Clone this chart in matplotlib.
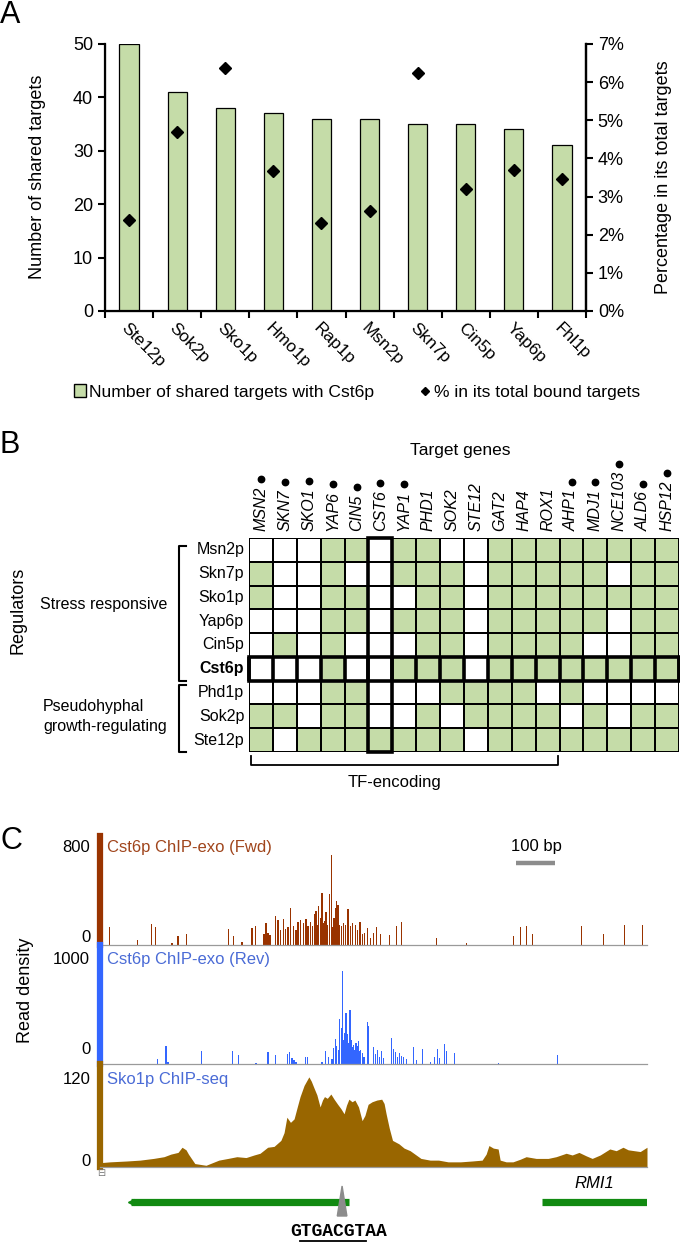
import numpy as np
import matplotlib
matplotlib.use('Agg')
import matplotlib.pyplot as plt
import matplotlib.ticker as ticker
from matplotlib.patches import Patch, Rectangle, Polygon
from matplotlib.lines import Line2D
from matplotlib.colors import ListedColormap

plt.rcParams['font.family'] = ['Liberation Sans', 'DejaVu Sans']

# ---------------- data ----------------
# panel A
regs_a = ['Ste12p', 'Sok2p', 'Sko1p', 'Hmo1p', 'Rap1p', 'Msn2p', 'Skn7p', 'Cin5p', 'Yap6p', 'Fhl1p']
shared = [50, 41, 38, 37, 36, 36, 35, 35, 34, 31]
pct = [2.38, 4.70, 6.38, 3.68, 2.32, 2.63, 6.23, 3.21, 3.70, 3.46]

# panel B
genes = ['MSN2', 'SKN7', 'SKO1', 'YAP6', 'CIN5', 'CST6', 'YAP1', 'PHD1', 'SOK2',
         'STE12', 'GAT2', 'HAP4', 'ROX1', 'AHP1', 'MDJ1', 'NCE103', 'ALD6', 'HSP12']
gene_dot = [1, 1, 1, 1, 1, 1, 1, 0, 0, 0, 0, 0, 0, 1, 1, 1, 1, 1]
regs_b = ['Msn2p', 'Skn7p', 'Sko1p', 'Yap6p', 'Cin5p', 'Cst6p', 'Phd1p', 'Sok2p', 'Ste12p']
binding = [
    [0, 0, 0, 1, 1, 0, 1, 1, 0, 0, 1, 1, 1, 1, 1, 1, 1, 1],
    [1, 0, 0, 1, 0, 0, 1, 1, 1, 0, 1, 1, 1, 1, 1, 0, 1, 1],
    [1, 0, 0, 1, 1, 0, 0, 1, 1, 0, 1, 1, 1, 1, 1, 1, 1, 1],
    [0, 0, 0, 1, 1, 0, 1, 1, 1, 0, 1, 1, 1, 1, 1, 0, 1, 1],
    [0, 1, 0, 1, 0, 0, 0, 1, 1, 0, 1, 1, 1, 1, 0, 0, 1, 1],
    [0, 0, 0, 1, 0, 0, 1, 1, 1, 0, 1, 1, 1, 1, 1, 1, 1, 1],
    [0, 0, 0, 1, 1, 0, 0, 0, 1, 1, 1, 1, 0, 1, 0, 0, 0, 0],
    [1, 1, 0, 1, 1, 0, 0, 1, 0, 1, 1, 1, 1, 0, 1, 0, 1, 1],
    [1, 0, 1, 1, 1, 1, 1, 1, 1, 0, 1, 1, 1, 1, 1, 1, 1, 1],
]

# panel C (positions in bp across the browser window)
fwd_pos = [24, 93, 128, 138, 180, 195, 217, 322, 333, 355, 380, 389, 410, 415, 420, 425, 439, 445,
           452, 458, 463, 470, 477, 483, 490, 495, 502, 508, 515, 520, 527, 532, 537, 540, 544, 547,
           551, 555, 559, 562, 565, 569, 573, 578, 582, 585, 588, 592, 595, 599, 603, 608, 613, 620,
           626, 632, 638, 644, 650, 656, 662, 669, 676, 683, 690, 700, 724, 740, 753, 840, 915, 1033,
           1050, 1065, 1080, 1203, 1258, 1310, 1355]
fwd_val = [133, 36, 153, 129, 17, 68, 78, 114, 65, 22, 126, 138, 78, 158, 90, 75, 216, 187,
           110, 194, 120, 130, 274, 140, 110, 167, 180, 165, 190, 140, 170, 140, 230, 250, 150, 289,
           200, 380, 160, 175, 245, 150, 376, 660, 135, 200, 271, 320, 296, 150, 140, 165, 150, 267,
           140, 160, 150, 110, 167, 80, 85, 126, 55, 90, 133, 78, 70, 138, 167, 53, 17, 65,
           133, 141, 78, 138, 82, 150, 150]

rev_pos = [143, 165, 170, 253, 332, 346, 390, 420, 438, 468, 474, 480, 485, 490, 513, 518, 555, 564,
           571, 580, 584, 589, 592, 596, 599, 603, 607, 610, 612, 615, 618, 621, 625, 628, 631, 634,
           637, 640, 643, 646, 649, 652, 656, 660, 669, 672, 683, 688, 693, 698, 703, 708, 728, 733,
           738, 743, 748, 753, 758, 765, 783, 790, 805, 825, 836, 844, 848, 861, 865, 885, 995, 1143]
rev_val = [39, 151, 20, 112, 109, 73, 8, 98, 76, 84, 98, 50, 35, 20, 62, 60, 20, 112,
           60, 40, 132, 207, 150, 120, 375, 300, 781, 200, 260, 426, 250, 180, 456, 200, 140, 160,
           120, 180, 150, 190, 110, 120, 90, 60, 350, 320, 140, 80, 120, 60, 110, 50, 221, 130,
           100, 60, 90, 70, 60, 40, 140, 30, 123, 20, 60, 123, 50, 171, 110, 90, 10, 73]

sko_pos = [0, 25, 67, 100, 134, 160, 177, 195, 205, 215, 221, 237, 265, 297, 320, 342, 365, 385,
           400, 419, 435, 452, 460, 467, 476, 485, 493, 500, 510, 522, 528, 534, 542, 550, 556, 561,
           568, 577, 585, 594, 602, 610, 616, 622, 630, 637, 646, 655, 662, 670, 680, 692, 704, 710,
           715, 723, 731, 747, 760, 775, 790, 802, 825, 846, 870, 901, 930, 955, 965, 972, 983, 995,
           1000, 1015, 1032, 1050, 1065, 1090, 1120, 1140, 1165, 1180, 1197, 1215, 1230, 1250, 1274,
           1290, 1307, 1320, 1335, 1350, 1367]
sko_val = [5, 6, 7, 8, 10, 12, 15, 17, 23, 20, 15, 4, 2, 8, 10, 12, 11, 14,
           16, 23, 24, 31, 40, 58, 52, 56, 70, 82, 95, 105, 100, 93, 84, 70, 78, 82,
           80, 85, 79, 73, 68, 62, 72, 79, 76, 78, 70, 54, 60, 73, 76, 78, 79, 74,
           62, 45, 31, 27, 22, 19, 14, 10, 8, 8, 6, 6, 7, 8, 15, 25, 22, 21,
           8, 6, 6, 9, 12, 10, 10, 12, 16, 14, 17, 13, 10, 14, 21, 19, 23, 20, 19, 18, 23]

genes_c = [(78, 622, 'left', ''), (1105, 1367, 'right', 'RMI1')]
motif = 'GTGACGTAA'
motif_pos = 605

GREEN = '#c5dca8'
FWD, REV, SKO = '#993300', '#3366ff', '#996600'
GENE = '#118a11'

W, H = 680, 1243
fig = plt.figure(figsize=(W / 100, H / 100), dpi=100)


def box(x0, y0, x1, y1):
    return [x0 / W, 1 - y1 / H, (x1 - x0) / W, (y1 - y0) / H]


def ftext(px, py, s, **kw):
    kw.setdefault('va', 'center')
    return fig.text(px / W, 1 - py / H, s, **kw)


# ---------------- A ----------------
ax = fig.add_axes(box(105, 44, 586, 311))
x = np.arange(len(regs_a))
ax.bar(x, shared, width=0.4, color=GREEN, edgecolor='black', linewidth=0.9, zorder=2)
ax.set_xlim(-0.5, len(regs_a) - 0.5)
ax.set_ylim(0, 50)
ax.set_yticks(range(0, 51, 10))
ax.set_xticks(x)
ax.set_xticklabels(regs_a, rotation=-45, ha='left', va='top', rotation_mode='anchor', fontsize=12.5)
ax.set_xticks(np.arange(-0.5, len(regs_a), 1), minor=True)
ax.tick_params(axis='x', which='major', length=0, pad=7)
ax.tick_params(axis='x', which='minor', length=5, width=1.5)
ax.tick_params(axis='y', length=5, width=1.5, labelsize=13)
ax.spines['top'].set_visible(False)
for s in ['left', 'right', 'bottom']:
    ax.spines[s].set_linewidth(1.6)

ax2 = ax.twinx()
ax2.plot(x, pct, 'D', color='black', ms=6, zorder=3)
ax2.set_ylim(0, 7)
ax2.set_yticks(range(0, 8))
ax2.yaxis.set_major_formatter(ticker.FuncFormatter(lambda v, p: f'{v:.0f}%'))
ax2.tick_params(axis='y', length=5, width=1.5, labelsize=13)
ax2.spines['top'].set_visible(False)
ax2.spines['right'].set_linewidth(1.6)

ftext(38, 177, 'Number of shared targets', rotation=90, ha='center', fontsize=13)
ftext(664, 177, 'Percentage in its total targets', rotation=90, ha='center', fontsize=13)
ftext(0, 15, 'A', fontsize=22, ha='left')

handles = [Patch(facecolor=GREEN, edgecolor='black', linewidth=1),
           Line2D([], [], marker='D', color='black', ls='none', ms=4.5)]
fig.legend(handles, ['Number of shared targets with Cst6p', '% in its total bound targets'],
           loc='center', bbox_to_anchor=(0.525, 1 - 392 / H), ncol=2, frameon=False,
           fontsize=12.6, handlelength=0.7, handleheight=0.7, handletextpad=0.15, columnspacing=2.6)

# ---------------- B ----------------
axb = fig.add_axes(box(249, 538, 679, 752))
mat = np.array(binding)
axb.pcolormesh(mat, cmap=ListedColormap(['white', GREEN]), edgecolors='black', linewidth=1.1)
axb.set_xlim(0, len(genes))
axb.set_ylim(len(regs_b), 0)
axb.axis('off')
ci = genes.index('CST6')
ri = regs_b.index('Cst6p')
axb.add_patch(Rectangle((ci, 0), 1, len(regs_b), fill=False, lw=2.6, ec='black', clip_on=False, zorder=4))
axb.add_patch(Rectangle((0, ri), len(genes), 1, fill=False, lw=2.6, ec='black', clip_on=False, zorder=4))
axb.vlines(np.arange(len(genes) + 1), ri, ri + 1, lw=2.6, color='black', clip_on=False, zorder=4)

gene_txt = []
for i, g in enumerate(genes):
    gene_txt.append(axb.text(i + 0.5, -0.3, g, rotation=90, ha='center',
                             va='bottom', style='italic', fontsize=11.5))
for r, name in enumerate(regs_b):
    axb.text(-0.2, r + 0.5, name, ha='right', va='center', fontsize=11.5,
             weight='bold' if name == 'Cst6p' else 'normal')

for y0, y1 in [(0.35, 6.0), (6.2, 9.0)]:
    axb.plot([-2.62, -2.92, -2.92, -2.62], [y0, y0, y1, y1], color='black', lw=1.5, clip_on=False)
axb.plot([0.08, 0.08, 12.92, 12.92], [9.15, 9.55, 9.55, 9.15], color='black', lw=1.3, clip_on=False)
axb.text(6.1, 10.3, 'TF-encoding', ha='center', va='center', fontsize=12)

ftext(460, 450, 'Target genes', ha='center', fontsize=12.5)
ftext(18, 610, 'Regulators', rotation=90, ha='center', fontsize=13)
ftext(40, 605, 'Stress responsive', ha='left', fontsize=11.5)
ftext(43, 707, 'Pseudohyphal', ha='left', fontsize=11.5)
ftext(43, 727, 'growth-regulating', ha='left', fontsize=11.5)
ftext(0, 445, 'B', fontsize=22, ha='left')

# ---------------- C ----------------
XMAX = 1367
tracks = [
    ((836, 945), fwd_pos, fwd_val, 800, FWD, '#a0451c', 'Cst6p ChIP-exo (Fwd)', 0.89, 0.073),
    ((945, 1064), rev_pos, rev_val, 1000, REV, '#4a6bd6', 'Cst6p ChIP-exo (Rev)', 0.874, 0.118),
    ((1064, 1167), sko_pos, sko_val, 120, SKO, '#4a6bd6', 'Sko1p ChIP-seq', 0.845, 0.05),
]
axes_c = []
for (top, bot), pos, val, ymax, col, tcol, title, ytop, ybot in tracks:
    a = fig.add_axes(box(100, top, 647, bot))
    if title.startswith('Sko1p'):
        a.fill_between(pos, val, color=col, linewidth=0)
    else:
        a.bar(pos, val, width=3.0, color=col, linewidth=0)
    a.set_xlim(0, XMAX)
    a.set_ylim(0, ymax)
    a.set_xticks([])
    a.set_yticks([])
    a.patch.set_alpha(0)
    for s in ['top', 'right']:
        a.spines[s].set_visible(False)
    a.spines['left'].set_color(col)
    a.spines['left'].set_linewidth(4.5)
    a.spines['bottom'].set_color('#9a9a9a')
    a.spines['bottom'].set_linewidth(0.9)
    a.text(0.013, ytop, title, transform=a.transAxes, color=tcol, fontsize=12, va='center')
    a.text(-0.018, ytop, str(ymax), transform=a.transAxes, ha='right', va='center', fontsize=12)
    a.text(-0.018, ybot, '0', transform=a.transAxes, ha='right', va='center', fontsize=12)
    axes_c.append(a)

axf = axes_c[0]
axf.plot([1040, 1137], [0.752, 0.752], color='#8c8c8c', lw=3.2, transform=axf.get_xaxis_transform(),
         solid_capstyle='butt', clip_on=False)
axf.text(1090, 0.9, '100 bp', transform=axf.get_xaxis_transform(), ha='center', va='center', fontsize=12)

# gene models
axg = fig.add_axes(box(100, 1168, 647, 1243))
axg.set_xlim(0, XMAX)
axg.set_ylim(75, 0)
axg.axis('off')
for start, end, strand, label in genes_c:
    axg.hlines(34, start, end, color=GENE, lw=5.2)
    if strand == 'left':
        axg.plot(start, 34, marker='<', ms=5, color=GENE, clip_on=False)
    if label:
        axg.text((start + end) / 2, 16, label, style='italic', ha='center', va='center', fontsize=12)
axg.add_patch(Polygon([(motif_pos - 12, 48), (motif_pos + 12, 48), (motif_pos, 18)],
                      closed=True, color='#8c8c8c', zorder=3))
cw = 27.5
mc = 596
axg.text(mc, 63, motif, family='Liberation Mono', weight='bold', ha='center', va='center',
         fontsize=13, clip_on=False)
axg.plot([mc - 3.5 * cw, mc + 2.5 * cw], [73, 73], color='black', lw=1.3, clip_on=False)

ftext(101, 1173, '\u229f', ha='center', fontsize=7, color='#777777', family='DejaVu Sans')
ftext(26, 990, 'Read density', rotation=90, ha='center', fontsize=13)
ftext(0, 841, 'C', fontsize=22, ha='left')

# dots above the target genes that are themselves bound (placed after text is laid out)
fig.canvas.draw()
rend = fig.canvas.get_renderer()
inv = axb.transData.inverted()
for i, (t, d) in enumerate(zip(gene_txt, gene_dot)):
    if d:
        bb = t.get_window_extent(rend)
        _, yd = inv.transform((0, bb.y1 + 7))
        axb.plot(i + 0.5, yd, 'o', ms=4.6, color='black', clip_on=False)

fig.savefig('out.png', dpi=100)
